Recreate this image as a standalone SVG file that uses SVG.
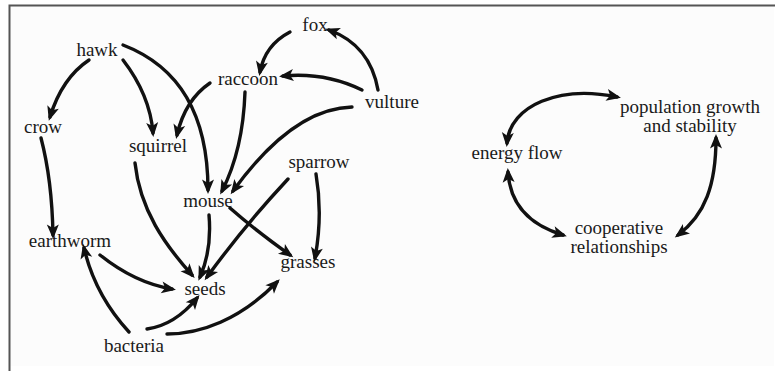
<svg xmlns="http://www.w3.org/2000/svg" width="776" height="371" viewBox="0 0 776 371">
  <style>
    .lbl { font-family: "Liberation Serif", "Times New Roman", serif; font-size: 19px; fill: #1a1a1a; text-anchor: middle; }
    .edge { fill: none; stroke: #111; stroke-width: 3.4; stroke-linecap: round; }
    .frame { stroke: #555; stroke-width: 2; fill: none; }
  </style>
  <defs>
    <marker id="head" markerUnits="userSpaceOnUse" markerWidth="17" markerHeight="14" viewBox="-1 -7 17 14" refX="10.5" refY="0" orient="auto-start-reverse">
      <path d="M0,-6 L14.5,0 L0,6 L3.5,0 Z" fill="#111"/>
    </marker>
  </defs>

  <rect x="0" y="0" width="776" height="371" fill="#ffffff"/>
  <rect x="10" y="6" width="764" height="360" fill="#fcfcfc"/>
  <path class="frame" d="M9.5,371 V5.5 H775"/>

  <!-- food web and cycle connectors -->
  <g id="connectors" marker-end="url(#head)">
    <path class="edge" d="M89,60 Q62,78 50,117"/>
    <path class="edge" d="M123,60 Q150,95 153,133"/>
    <path class="edge" d="M123,45 C175,65 208,110 208,190"/>
    <path class="edge" d="M210,83 Q185,100 177,135"/>
    <path class="edge" d="M245,92 Q243,150 222,191"/>
    <path class="edge" d="M352,107 C310,108 270,140 233,191"/>
    <path class="edge" d="M290,32 Q265,45 260,72"/>
    <path class="edge" d="M378,90 Q370,45 329,30"/>
    <path class="edge" d="M362,90 Q325,72 283,76"/>
    <path class="edge" d="M41,138 Q52,180 53,235"/>
    <path class="edge" d="M135,163 C140,210 165,245 192,275"/>
    <path class="edge" d="M100,255 Q135,283 172,289"/>
    <path class="edge" d="M129,332 Q95,295 84,248"/>
    <path class="edge" d="M147,329 Q175,325 197,298"/>
    <path class="edge" d="M167,334 C200,334 240,320 277,282"/>
    <path class="edge" d="M209,215 Q212,250 200,277"/>
    <path class="edge" d="M288,179 Q245,225 207,277"/>
    <path class="edge" d="M230,208 Q255,230 290,255"/>
    <path class="edge" d="M316,174 Q323,215 315,258"/>
    <!-- cycle connectors, arrowheads at both ends -->
    <path class="edge" marker-start="url(#head)" d="M507,143 C510,105 560,85 617,97"/>
    <path class="edge" marker-start="url(#head)" d="M508,172 C510,205 530,225 563,235"/>
    <path class="edge" marker-start="url(#head)" d="M716,138 C716,185 705,215 678,235"/>
  </g>

  <!-- food web organisms -->
  <g id="hawk"><text class="lbl" x="97" y="56">hawk</text></g>
  <g id="crow"><text class="lbl" x="43" y="133">crow</text></g>
  <g id="squirrel"><text class="lbl" x="158" y="152">squirrel</text></g>
  <g id="fox"><text class="lbl" x="315" y="31">fox</text></g>
  <g id="raccoon"><text class="lbl" x="248" y="85">raccoon</text></g>
  <g id="vulture"><text class="lbl" x="392" y="108">vulture</text></g>
  <g id="sparrow"><text class="lbl" x="319" y="168">sparrow</text></g>
  <g id="mouse"><text class="lbl" x="208" y="207">mouse</text></g>
  <g id="grasses"><text class="lbl" x="308" y="268">grasses</text></g>
  <g id="seeds"><text class="lbl" x="205" y="295">seeds</text></g>
  <g id="earthworm"><text class="lbl" x="70" y="247">earthworm</text></g>
  <g id="bacteria"><text class="lbl" x="134" y="352">bacteria</text></g>

  <!-- ecosystem cycle -->
  <g id="population"><text class="lbl" x="690" y="113">population growth</text><text class="lbl" x="690" y="132">and stability</text></g>
  <g id="energy"><text class="lbl" x="517" y="159">energy flow</text></g>
  <g id="cooperative"><text class="lbl" x="619" y="234">cooperative</text><text class="lbl" x="619" y="253">relationships</text></g>
</svg>
